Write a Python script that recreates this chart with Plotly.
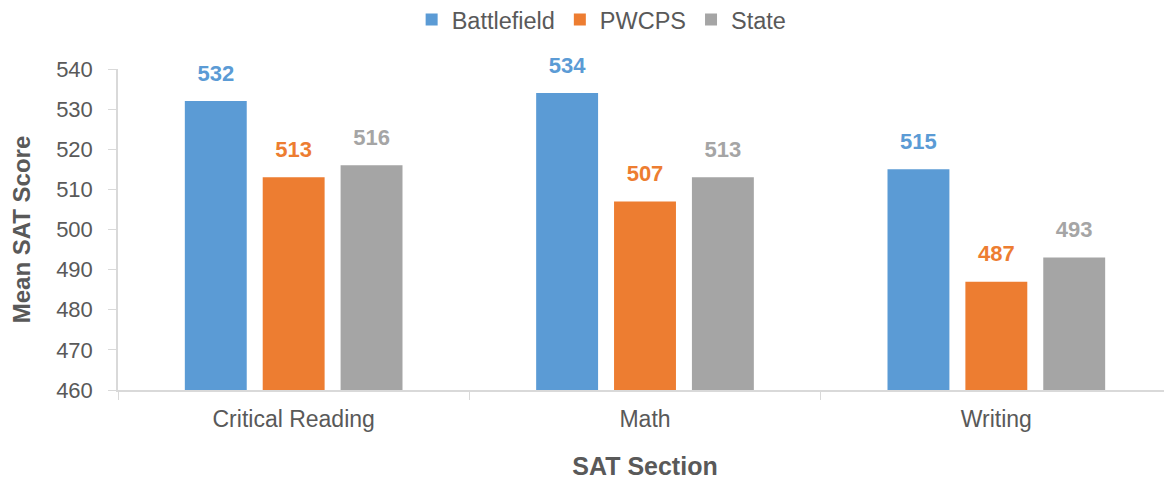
import plotly.graph_objects as go

categories = ["Critical Reading", "Math", "Writing"]
battlefield = [532, 534, 515]
pwcps = [513, 507, 487]
state = [516, 513, 493]
series_names = ["Battlefield", "PWCPS", "State"]
colors = ["#5B9BD5", "#ED7D31", "#A5A5A5"]
y_ticks = [460, 470, 480, 490, 500, 510, 520, 530, 540]

FONT = "Liberation Sans, Arial, sans-serif"
GRAY = "#595959"
BARGAP = 0.335

fig = go.Figure()
for name, vals, col in zip(series_names, [battlefield, pwcps, state], colors):
    fig.add_trace(go.Bar(
        x=categories, y=vals, name=name, marker_color=col, marker_line_width=0,
        offsetgroup=name,
    ))
for name, vals, col in zip(series_names, [battlefield, pwcps, state], colors):
    fig.add_trace(go.Scatter(
        x=categories, y=vals, mode="markers+text", showlegend=False,
        offsetgroup=name, hoverinfo="skip",
        marker=dict(size=22, color="rgba(0,0,0,0)"),
        text=["<b>%d</b>" % v for v in vals], textposition="top center",
        textfont=dict(family=FONT, size=22, color=col), cliponaxis=False,
    ))

fig.update_layout(
    width=1164, height=473,
    margin=dict(l=110, r=0, t=61, b=91, autoexpand=False),
    plot_bgcolor="white", paper_bgcolor="white",
    barmode="group", bargap=BARGAP, bargroupgap=0.205,
    scattermode="group", scattergap=BARGAP,
    font=dict(family=FONT, color=GRAY, size=22),
    legend=dict(orientation="h", x=0.51, xref="container", xanchor="center",
                y=0.975, yref="container", yanchor="middle",
                font=dict(size=23.5, color=GRAY), itemwidth=30,
                traceorder="normal", bgcolor="rgba(0,0,0,0)"),
    showlegend=True,
)
fig.update_xaxes(
    showline=True, linecolor="#D9D9D9", linewidth=1.5, automargin=False,
    ticks="outside", tickson="boundaries", ticklen=8, tickcolor="#D9D9D9",
    tickfont=dict(size=23, color=GRAY), ticklabelstandoff=8, tickangle=0,
    title=dict(text="<b>SAT Section</b>", font=dict(size=25, color=GRAY), standoff=26),
)
fig.update_yaxes(
    range=[460, 540], tickvals=y_ticks, showgrid=False, zeroline=False,
    showline=True, linecolor="#D9D9D9", linewidth=1.5, automargin=False,
    ticks="outside", ticklen=8, tickcolor="#D9D9D9",
    tickfont=dict(size=22, color=GRAY), ticklabelstandoff=11,
    title=dict(text="<b>Mean SAT Score</b>", font=dict(size=24, color=GRAY), standoff=20),
)

fig.write_html("out.html")
